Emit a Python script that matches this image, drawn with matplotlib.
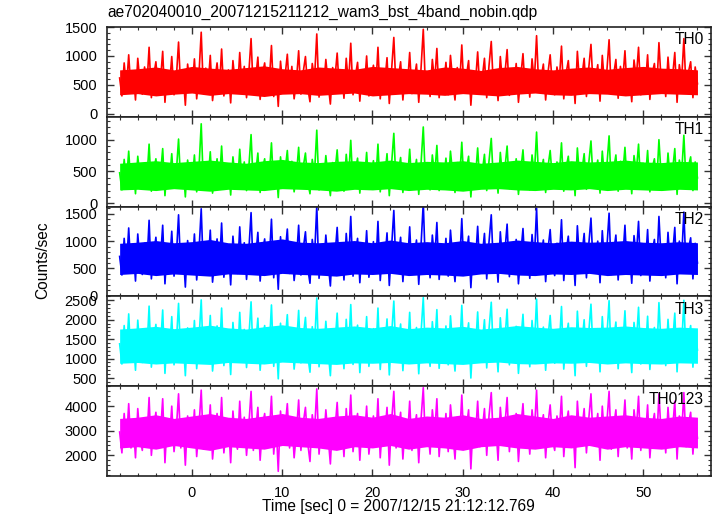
import numpy as np
import matplotlib
matplotlib.use("Agg")
import matplotlib.pyplot as plt
from matplotlib.ticker import MultipleLocator

title = "ae702040010_20071215211212_wam3_bst_4band_nobin.qdp"
band_names = ["TH0", "TH1", "TH2", "TH3", "TH0123"]
colors = ["#ff0000", "#00ff00", "#0000ff", "#00ffff", "#ff00ff"]
t_start, t_end = -8.0, 56.0

th0 = [620, 310, 880, 450, 1020, 390, 720, 240, 960, 530, 340, 810, 470, 1150, 280, 650,
       900, 410, 560, 1080, 200, 740, 480, 990, 330, 610, 1240, 380, 700, 150, 860, 520,
       430, 950, 260, 680, 1410, 350, 790, 470, 1010, 230, 580, 880, 420, 1120, 310, 640,
       760, 190, 920, 510, 370, 1060, 440, 820, 280, 700, 1300, 360, 590, 980, 250, 670,
       880, 420, 540, 1180, 300, 760, 130, 910, 480, 650, 1030, 370, 820, 260, 560, 1090,
       340, 720, 990, 450, 210, 870, 600, 1380, 290, 680, 430, 940, 520, 170, 800, 610,
       1050, 380, 730, 270, 960, 500, 1220, 330, 640, 890, 220, 760, 450, 1000, 310, 580,
       840, 420, 1150, 260, 690, 530, 970, 180, 750, 1320, 390, 620, 900, 240, 710, 480,
       1060, 350, 590, 860, 200, 780, 1460, 410, 670, 300, 940, 550, 1130, 280, 720, 460,
       890, 330, 1010, 570, 240, 800, 470, 1190, 360, 650, 920, 150, 740, 520, 1070, 390,
       610, 960, 280, 830, 1250, 420, 700, 230, 990, 510, 680, 1110, 320, 760, 450, 870,
       200, 640, 1040, 380, 730, 290, 950, 560, 1350, 410, 620, 860, 240, 700, 1020, 470,
       330, 810, 560, 1170, 260, 690, 920, 400, 750, 180, 1080, 520, 640, 960, 300, 780,
       1200, 440, 600, 850, 220, 1010, 490, 730, 1280, 350, 670, 940, 270, 820, 560, 1090,
       380, 700, 210, 930, 620, 1150, 330, 780, 480, 1020, 250, 690, 870, 410, 1230, 540,
       760, 300, 980, 460, 640, 1060, 200, 850, 570, 1300, 390, 720, 900, 280, 810, 520]

th1 = [480, 210, 690, 330, 820, 260, 570, 150, 740, 400, 230, 630, 350, 930, 190, 510,
       700, 300, 440, 860, 120, 590, 360, 780, 240, 480, 1010, 270, 560, 100, 680, 400,
       320, 760, 180, 540, 1250, 250, 620, 350, 810, 160, 450, 700, 300, 900, 220, 500,
       600, 130, 730, 390, 270, 850, 330, 650, 200, 560, 1080, 260, 460, 790, 170, 530,
       700, 310, 420, 950, 220, 600, 90, 730, 360, 510, 830, 270, 660, 180, 440, 880,
       250, 570, 790, 340, 150, 690, 470, 1150, 210, 540, 320, 750, 400, 120, 640, 480,
       840, 280, 580, 190, 770, 380, 990, 240, 500, 710, 160, 610, 340, 800, 220, 450,
       670, 310, 930, 180, 550, 410, 780, 120, 600, 1100, 290, 490, 720, 170, 570, 360,
       850, 260, 460, 690, 140, 620, 1200, 300, 530, 210, 760, 430, 910, 200, 580, 350,
       710, 240, 820, 450, 170, 640, 360, 960, 260, 520, 740, 100, 590, 400, 870, 290,
       480, 770, 200, 660, 1020, 310, 560, 160, 800, 390, 540, 900, 230, 610, 340, 700,
       140, 510, 840, 280, 580, 210, 760, 440, 1120, 300, 490, 690, 170, 560, 830, 360,
       240, 650, 440, 950, 190, 550, 740, 290, 600, 120, 870, 400, 510, 780, 220, 620,
       980, 330, 470, 680, 160, 820, 380, 580, 1060, 260, 530, 760, 190, 660, 440, 880,
       280, 560, 150, 750, 490, 930, 240, 630, 370, 830, 180, 550, 700, 300, 1000, 420,
       610, 220, 790, 350, 510, 860, 140, 680, 450, 1070, 290, 580, 730, 200, 650, 400]

th2 = [720, 380, 1050, 520, 1240, 430, 860, 270, 1130, 610, 390, 960, 540, 1380, 310, 760,
       1070, 460, 650, 1290, 220, 880, 550, 1180, 360, 710, 1480, 420, 830, 160, 1010, 600,
       490, 1130, 290, 800, 1590, 390, 930, 540, 1200, 250, 680, 1040, 470, 1330, 340, 750,
       900, 200, 1090, 590, 410, 1260, 500, 970, 300, 820, 1520, 400, 690, 1160, 270, 780,
       1040, 470, 630, 1400, 330, 900, 120, 1080, 550, 760, 1220, 410, 970, 280, 650, 1290,
       380, 850, 1170, 510, 230, 1030, 700, 1640, 320, 800, 490, 1110, 600, 180, 950, 710,
       1250, 420, 860, 290, 1140, 570, 1450, 360, 750, 1050, 240, 900, 510, 1190, 340, 680,
       990, 470, 1360, 280, 810, 610, 1150, 190, 880, 1560, 430, 730, 1070, 260, 840, 550,
       1260, 390, 690, 1020, 210, 920, 1700, 460, 790, 330, 1110, 640, 1340, 300, 850, 520,
       1050, 360, 1200, 660, 260, 950, 540, 1410, 400, 760, 1090, 150, 870, 600, 1270, 440,
       710, 1140, 310, 980, 1480, 470, 830, 250, 1170, 590, 800, 1310, 350, 900, 510, 1030,
       220, 750, 1230, 420, 860, 320, 1120, 650, 1600, 460, 730, 1020, 260, 830, 1210, 540,
       370, 960, 650, 1390, 280, 810, 1090, 450, 880, 190, 1280, 600, 750, 1140, 330, 920,
       1420, 500, 700, 1000, 240, 1190, 560, 860, 1510, 390, 790, 1110, 290, 970, 650, 1290,
       420, 830, 230, 1100, 730, 1360, 370, 920, 550, 1210, 270, 810, 1030, 460, 1450, 630,
       900, 330, 1160, 530, 750, 1250, 220, 1000, 670, 1530, 440, 850, 1060, 310, 960, 600]

th3 = [1380, 860, 1850, 1090, 2150, 940, 1560, 700, 1990, 1220, 900, 1720, 1150, 2350, 780, 1450,
       1880, 1000, 1280, 2250, 620, 1610, 1130, 2080, 840, 1390, 2420, 960, 1540, 560, 1790, 1200,
       1040, 1980, 740, 1470, 2510, 880, 1670, 1120, 2110, 680, 1300, 1840, 1030, 2300, 820, 1420,
       1640, 590, 1930, 1180, 920, 2190, 1060, 1750, 770, 1520, 2460, 900, 1310, 2040, 700, 1460,
       1850, 1030, 1250, 2380, 800, 1640, 480, 1910, 1110, 1430, 2130, 930, 1740, 730, 1290, 2240,
       890, 1550, 2060, 1080, 650, 1820, 1340, 2560, 790, 1470, 1040, 1960, 1200, 560, 1700, 1350,
       2170, 960, 1560, 740, 2010, 1150, 2390, 850, 1400, 1860, 640, 1610, 1090, 2080, 800, 1310,
       1770, 1010, 2300, 720, 1500, 1230, 2020, 580, 1590, 2480, 950, 1360, 1890, 690, 1530, 1130,
       2190, 880, 1330, 1800, 610, 1650, 2570, 1000, 1450, 800, 1950, 1260, 2260, 750, 1550, 1080,
       1840, 840, 2100, 1300, 680, 1700, 1120, 2370, 900, 1420, 1920, 500, 1580, 1220, 2200, 970,
       1360, 2000, 760, 1750, 2450, 1020, 1500, 660, 2050, 1180, 1470, 2270, 840, 1620, 1100, 1830,
       620, 1420, 2140, 950, 1560, 790, 1980, 1290, 2530, 1000, 1390, 1810, 700, 1520, 2110, 1150,
       880, 1720, 1300, 2340, 730, 1490, 1910, 1020, 1590, 560, 2220, 1230, 1400, 2000, 800, 1650,
       2400, 1070, 1350, 1770, 660, 2080, 1150, 1560, 2490, 910, 1460, 1940, 740, 1710, 1300, 2230,
       950, 1510, 640, 1930, 1380, 2320, 860, 1640, 1130, 2090, 720, 1470, 1800, 1010, 2440, 1250,
       1600, 820, 2010, 1120, 1390, 2170, 660, 1760, 1290, 2500, 970, 1540, 1850, 780, 1680, 1220]

th0123 = [2950, 2100, 3700, 2500, 4100, 2300, 3300, 1900, 3900, 2700, 2200, 3500, 2600, 4350, 2000, 3100,
          3750, 2400, 2850, 4300, 1700, 3400, 2550, 4000, 2150, 3050, 4500, 2300, 3300, 1600, 3600, 2700,
          2450, 3850, 1950, 3150, 4650, 2250, 3450, 2600, 4050, 1850, 2950, 3700, 2450, 4350, 2100, 3100,
          3400, 1700, 3800, 2650, 2250, 4200, 2500, 3550, 2000, 3200, 4600, 2200, 2950, 3950, 1800, 3150,
          3700, 2450, 2800, 4400, 2050, 3400, 1350, 3800, 2550, 3100, 4100, 2300, 3500, 1900, 2900, 4250,
          2200, 3300, 3950, 2500, 1750, 3650, 2950, 4700, 2050, 3150, 2450, 3850, 2750, 1650, 3500, 3000,
          4150, 2350, 3300, 1950, 3900, 2650, 4450, 2150, 3100, 3700, 1800, 3400, 2550, 4000, 2050, 2950,
          3600, 2450, 4300, 1900, 3250, 2800, 3950, 1600, 3350, 4600, 2300, 3000, 3750, 1850, 3250, 2650,
          4200, 2200, 3000, 3650, 1700, 3450, 4750, 2400, 3150, 2050, 3850, 2850, 4300, 1950, 3300, 2550,
          3700, 2150, 4050, 2950, 1850, 3550, 2600, 4450, 2250, 3100, 3850, 1450, 3350, 2750, 4200, 2350,
          3000, 3900, 2000, 3600, 4550, 2450, 3250, 1800, 3950, 2750, 3200, 4350, 2150, 3400, 2550, 3700,
          1750, 3100, 4100, 2350, 3350, 2050, 3850, 2900, 4650, 2400, 3050, 3650, 1900, 3250, 4050, 2650,
          2200, 3600, 2900, 4400, 1950, 3200, 3800, 2500, 3350, 1500, 4200, 2800, 3050, 3900, 2100, 3450,
          4500, 2550, 2950, 3700, 1800, 4000, 2650, 3300, 4600, 2250, 3150, 3850, 1950, 3550, 2900, 4250,
          2300, 3250, 1850, 3850, 3000, 4400, 2200, 3450, 2700, 4050, 1900, 3150, 3700, 2450, 4500, 2800,
          3400, 2100, 3950, 2600, 3050, 4200, 1850, 3600, 2850, 4550, 2350, 3250, 3750, 2050, 3450, 2700]

# solid inner part of each light curve (every 2 s)
th0_lo = [330, 350, 310, 340, 360, 320, 350, 330, 300, 340, 350, 320, 340, 360, 310, 330, 350,
          340, 320, 350, 330, 310, 340, 360, 330, 320, 350, 340, 310, 330, 350, 340, 330]
th0_hi = [760, 780, 810, 760, 820, 790, 770, 800, 830, 780, 760, 810, 790, 770, 820, 800, 780,
          760, 810, 790, 750, 800, 820, 780, 760, 790, 810, 770, 800, 820, 790, 780, 760]
th1_lo = [210, 220, 200, 230, 210, 190, 220, 210, 200, 230, 220, 210, 190, 220, 210, 230, 200,
          220, 210, 190, 220, 230, 210, 200, 220, 210, 230, 200, 220, 210, 200, 220, 210]
th1_hi = [630, 650, 670, 640, 660, 680, 650, 630, 670, 690, 650, 640, 660, 670, 650, 680, 640,
          660, 650, 670, 630, 650, 680, 660, 640, 670, 650, 660, 680, 650, 640, 660, 650]
th2_lo = [390, 410, 370, 400, 380, 360, 400, 390, 370, 410, 390, 380, 360, 400, 390, 410, 370,
          390, 380, 360, 400, 410, 380, 370, 400, 390, 410, 370, 390, 380, 370, 400, 390]
th2_hi = [960, 980, 1010, 970, 990, 1030, 970, 960, 1000, 1040, 980, 970, 990, 1010, 970, 1020, 970,
          990, 970, 1010, 960, 980, 1020, 990, 970, 1000, 980, 990, 1010, 980, 970, 990, 970]
th3_lo = [880, 900, 860, 890, 870, 850, 900, 880, 860, 910, 890, 870, 850, 890, 880, 900, 860,
          890, 870, 850, 890, 910, 870, 860, 890, 880, 900, 860, 890, 870, 860, 890, 880]
th3_hi = [1760, 1790, 1830, 1770, 1810, 1860, 1790, 1760, 1820, 1870, 1800, 1780, 1810, 1840, 1790, 1850, 1770,
          1810, 1790, 1830, 1760, 1800, 1850, 1810, 1780, 1820, 1800, 1810, 1840, 1800, 1780, 1810, 1790]
th0123_lo = [2300, 2350, 2250, 2400, 2300, 2200, 2350, 2300, 2250, 2400, 2350, 2300, 2200, 2350, 2300, 2400, 2250,
             2350, 2300, 2200, 2350, 2400, 2300, 2250, 2350, 2300, 2400, 2250, 2350, 2300, 2250, 2350, 2300]
th0123_hi = [3500, 3550, 3650, 3500, 3600, 3700, 3550, 3500, 3600, 3700, 3550, 3500, 3600, 3650, 3550, 3700, 3500,
             3600, 3550, 3650, 3500, 3550, 3700, 3600, 3500, 3650, 3550, 3600, 3650, 3550, 3500, 3600, 3550]

series = [th0, th1, th2, th3, th0123]
cores = [(th0_lo, th0_hi), (th1_lo, th1_hi), (th2_lo, th2_hi), (th3_lo, th3_hi), (th0123_lo, th0123_hi)]
ylims = [(-50, 1500), (-52, 1360), (-10, 1630), (290, 2600), (1160, 4810)]
major_steps = [500, 500, 500, 500, 1000]
minor_steps = [100, 100, 100, 100, 200]

plt.rcParams['font.family'] = ['Liberation Sans', 'DejaVu Sans']
plt.rcParams['font.size'] = 10.5

fig = plt.figure(figsize=(7.17, 5.16), dpi=100)
W, H = 717, 516
left, right = 107 / W, 711 / W
top_px, bot_px = 27, 476
ph = (bot_px - top_px) / 5

for i, (vals, name, col) in enumerate(zip(series, band_names, colors)):
    ax = fig.add_axes([left, 1 - (top_px + (i + 1) * ph) / H, right - left, ph / H])
    lo, hi = cores[i]
    tc = np.linspace(t_start, t_end, len(lo))
    ax.fill_between(tc, lo, hi, color=col, lw=0)
    t = np.linspace(t_start, t_end, len(vals))
    ax.plot(t, vals, color=col, lw=1.2)
    ax.set_xlim(-9.4, 57.5)
    ax.set_ylim(*ylims[i])
    ax.xaxis.set_major_locator(MultipleLocator(10))
    ax.xaxis.set_minor_locator(MultipleLocator(2))
    ax.yaxis.set_major_locator(MultipleLocator(major_steps[i]))
    ax.yaxis.set_minor_locator(MultipleLocator(minor_steps[i]))
    ax.tick_params(which='both', direction='in', top=True, right=True, color='#333333')
    ax.tick_params(which='major', length=5, width=1.0, pad=7)
    ax.tick_params(which='minor', length=2.5, width=0.8)
    for s in ax.spines.values():
        s.set_linewidth(1.2)
        s.set_color('#222222')
    if i < 4:
        ax.tick_params(axis='x', labelbottom=False)
    ax.text(0.988, 0.94, name, transform=ax.transAxes, ha='right', va='top', fontsize=11.2)

fig.text(left, 1 - 12 / H, title, ha='left', va='center', fontsize=11.2)
fig.text(43 / W, 1 - 260 / H, "Counts/sec", rotation=90, ha='center', va='center', fontsize=11.2)
fig.text(398 / W, 1 - 507 / H, "Time [sec] 0 = 2007/12/15 21:12:12.769", ha='center', va='center', fontsize=11.2)

fig.savefig("out.png", dpi=100)
